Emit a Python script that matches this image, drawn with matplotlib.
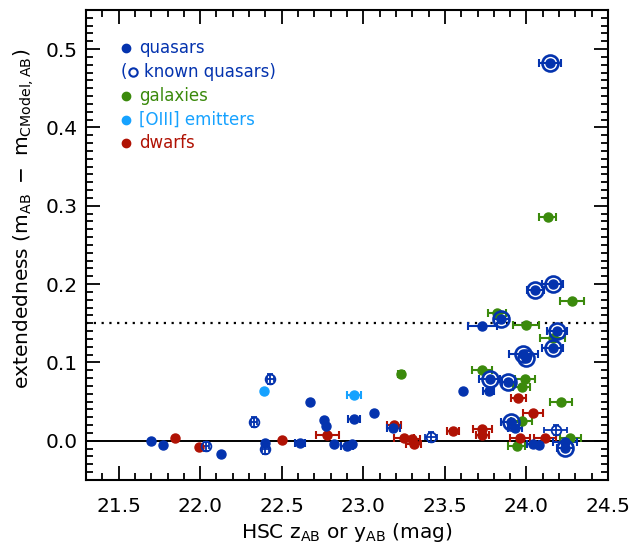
import numpy as np
import matplotlib.pyplot as plt
from matplotlib.ticker import MultipleLocator

# quasars, filled dots only
qso_mag = [21.70, 21.77, 22.13, 22.40, 22.61, 22.675, 22.76, 22.77, 22.82, 22.90,
           22.93, 22.945, 23.065, 23.185, 23.61, 23.77, 23.93, 24.04, 24.08, 24.235, 23.73]
qso_ext = [0.000, -0.005, -0.017, -0.003, -0.003, 0.049, 0.027, 0.019, -0.004, -0.007,
           -0.004, 0.028, 0.036, 0.016, 0.063, 0.063, 0.016, -0.004, -0.005, -0.001, 0.147]
qso_err = [0.0, 0.0, 0.0, 0.0, 0.03, 0.0, 0.0, 0.0, 0.0, 0.039,
           0.0, 0.036, 0.0, 0.039, 0.0, 0.034, 0.041, 0.036, 0.0, 0.074, 0.087]

# known quasars that also have a new measurement (dot + ring)
kq_mag = [24.145, 24.16, 24.055, 23.845, 24.185, 24.16, 23.98, 23.995, 23.775, 23.89, 23.905, 24.237]
kq_ext = [0.482, 0.200, 0.192, 0.156, 0.140, 0.119, 0.111, 0.106, 0.079, 0.075, 0.024, -0.009]
kq_err = [0.068, 0.066, 0.054, 0.046, 0.061, 0.066, 0.089, 0.0, 0.063, 0.041, 0.058, 0.051]

# known quasars, open symbols only
ko_mag = [22.035, 22.33, 22.43, 22.40, 23.415, 24.18]
ko_ext = [-0.007, 0.024, 0.079, -0.011, 0.005, 0.014]
ko_err = [0.02, 0.02, 0.02, 0.02, 0.039, 0.07]

gal_mag = [24.13, 24.28, 23.82, 23.995, 24.16, 23.23, 23.73, 23.99, 23.97, 24.21, 23.97, 24.27, 23.94]
gal_ext = [0.286, 0.178, 0.163, 0.148, 0.131, 0.085, 0.090, 0.079, 0.069, 0.049, 0.025, 0.003, -0.007]
gal_err = [0.053, 0.072, 0.056, 0.079, 0.077, 0.02, 0.061, 0.063, 0.053, 0.068, 0.064, 0.066, 0.052]

oiii_mag = [22.39, 22.94]
oiii_ext = [0.063, 0.059]
oiii_err = [0.0, 0.043]

dw_mag = [21.845, 21.99, 22.50, 22.78, 23.19, 23.25, 23.30, 23.31, 23.55, 23.73, 23.73,
          23.95, 24.04, 23.96, 24.115]
dw_ext = [0.003, -0.008, 0.001, 0.007, 0.020, 0.003, 0.002, -0.004, 0.012, 0.015, 0.007,
          0.055, 0.035, 0.003, 0.003]
dw_err = [0.0, 0.0, 0.0, 0.07, 0.044, 0.061, 0.046, 0.046, 0.034, 0.06, 0.04,
          0.047, 0.063, 0.06, 0.066]

blue = '#0433ae'
green = '#3b8a0c'
cyan = '#16a2ff'
red = '#b01204'

fig = plt.figure(figsize=(6.35, 5.45), dpi=100)
ax = fig.add_axes([0.1354, 0.1193, 0.8221, 0.8624])

ax.axhline(0.0, color='k', lw=1.4, zorder=1)
ax.axhline(0.15, color='k', lw=1.6, ls=(0, (1, 2.5)), zorder=1)

eb = dict(fmt='o', ms=6.5, capsize=3, elinewidth=1.5, capthick=1.5, zorder=3)
ax.errorbar(gal_mag, gal_ext, xerr=gal_err, color=green, **eb)
ax.errorbar(dw_mag, dw_ext, xerr=dw_err, color=red, **eb)
ax.errorbar(oiii_mag, oiii_ext, xerr=oiii_err, color=cyan, **eb)
ax.errorbar(qso_mag, qso_ext, xerr=qso_err, color=blue, **eb)
ax.errorbar(kq_mag, kq_ext, xerr=kq_err, color=blue, **eb)
ax.plot(kq_mag, kq_ext, 'o', ms=11.5, mfc='none', mec=blue, mew=1.9, zorder=4)
ax.errorbar(ko_mag, ko_ext, xerr=ko_err, yerr=0.006, fmt='o', ms=7, mfc='none',
            mec=blue, mew=1.3, color=blue, capsize=2, elinewidth=1.3, zorder=3)

ax.set_xlim(21.3, 24.5)
ax.set_ylim(-0.05, 0.55)
ax.xaxis.set_major_locator(MultipleLocator(0.5))
ax.xaxis.set_minor_locator(MultipleLocator(0.1))
ax.yaxis.set_major_locator(MultipleLocator(0.1))
ax.yaxis.set_minor_locator(MultipleLocator(0.01))
ax.tick_params(which='both', direction='in', top=True, right=True, labelsize=14.5, width=1.3)
ax.tick_params(which='major', length=10)
ax.tick_params(which='minor', length=5)
ax.tick_params(axis='x', which='major', pad=12)
ax.tick_params(axis='y', which='major', pad=6)
for s in ax.spines.values():
    s.set_linewidth(1.5)

ax.set_xlabel(r'HSC z$_{\rm AB}$ or y$_{\rm AB}$ (mag)', fontsize=14.5, labelpad=4)
ax.set_ylabel(r'extendedness $\left(\rm m_{AB}\ -\ m_{CModel,AB}\right)$', fontsize=14.5)
ax.yaxis.set_label_coords(-0.095, 0.555)

# legend written by hand
leg = [('quasars', blue, 0.919), ('galaxies', green, 0.817),
       ('[OIII] emitters', cyan, 0.766), ('dwarfs', red, 0.717)]
for name, c, yy in leg:
    ax.plot(0.077, yy, 'o', ms=6, color=c, transform=ax.transAxes)
    ax.text(0.102, yy, name, color=c, fontsize=12, va='center', transform=ax.transAxes)
ax.text(0.067, 0.868, '(', color=blue, fontsize=12, va='center', transform=ax.transAxes)
ax.plot(0.090, 0.868, 'o', ms=6, mfc='none', mec=blue, mew=1.5, transform=ax.transAxes)
ax.text(0.112, 0.868, 'known quasars)', color=blue, fontsize=12, va='center',
        transform=ax.transAxes)

fig.savefig('out.png', dpi=100)
